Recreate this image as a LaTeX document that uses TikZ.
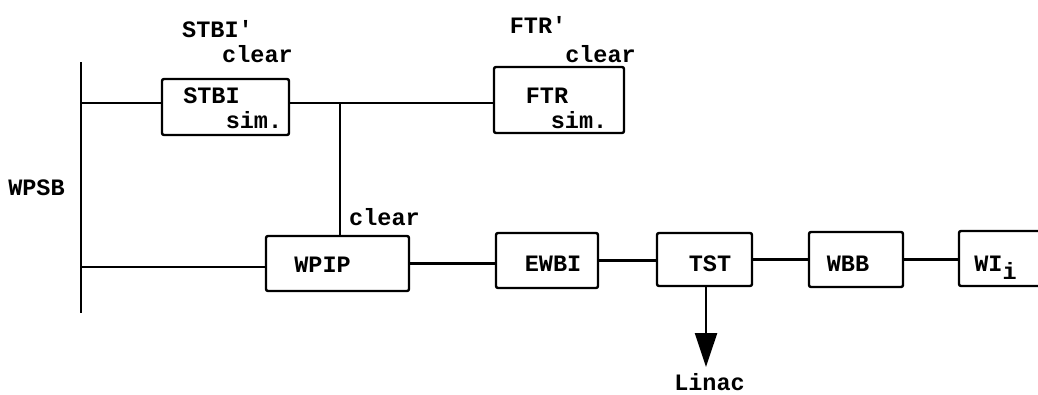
\documentclass[tikz,border=0pt]{standalone}
\usepackage{fontspec}
\setmonofont{Liberation Mono}
\usetikzlibrary{arrows.meta}
\tikzset{
  blk/.style={draw, rectangle, rounded corners=2pt, inner sep=0pt, line width=2.4pt, minimum width=#1},
  blk/.default=100pt,
  lbl/.style={anchor=base, inner sep=0pt, font=\fontsize{23.5}{28}\selectfont\ttfamily\bfseries},
  wire/.style={line width=2.4pt},
}
\begin{document}
\begin{tikzpicture}[x=1pt,y=-1pt]
\useasboundingbox (0,0) rectangle (1038,394);
\clip (0,0) rectangle (1038,394);
% boxes
\node[blk=127pt, minimum height=56pt] (stbi) at (225.5,107) {};
\node[blk=130pt, minimum height=66pt] (ftr) at (559,100) {};
\node[blk=143pt, minimum height=55pt] (wpip) at (337.5,263.5) {};
\node[blk=102pt, minimum height=55pt] (ewbi) at (547,260.5) {};
\node[blk=95pt, minimum height=53pt] (tst) at (704.5,259.5) {};
\node[blk=94pt, minimum height=55pt] (wbb) at (856,259.5) {};
\node[blk=91pt, minimum height=55pt] (wi) at (1004.5,258.5) {};
% bus bar
\coordinate (bt) at (81,62);
\coordinate (bb) at (81,313);
\coordinate (b1) at (81,103);
\coordinate (b2) at (81,267);
\coordinate (j) at (340,103);
\coordinate (tip) at (706,367);
\draw[wire] (bt) -- (bb);
\draw[wire] (b1) -- (b1 -| stbi.west);
\draw[wire] (b1 -| stbi.east) -- (b1 -| ftr.west);
\draw[wire] (j) -- (j |- wpip.north);
\draw[wire] (b2) -- (b2 -| wpip.west);
\draw[wire] (wpip.east) -- (wpip.east -| ewbi.west);
\draw[wire] (ewbi.east) -- (ewbi.east -| tst.west);
\draw[wire] (tst.east) -- (tst.east -| wbb.west);
\draw[wire] (wbb.east) -- (wbb.east -| wi.west);
\draw[wire, -{Triangle[length=34pt,width=22pt]}] (tip |- tst.south) -- (tip);
% labels
\node[lbl] (stbip) at (217.5,37) {STBI\textquotesingle};
\node[lbl] (clr1) at (257.5,62) {clear};
\node[lbl] (stbit) at (211.5,103) {STBI};
\node[lbl] (sim1) at (254,128) {sim.};
\node[lbl] (ftrp) at (538,33) {FTR\textquotesingle};
\node[lbl] (clr2) at (600.5,62) {clear};
\node[lbl] (ftrt) at (547,103) {FTR};
\node[lbl] (sim2) at (579,128) {sim.};
\node[lbl] (wpsb) at (36.5,195) {WPSB};
\node[lbl] (clr3) at (384.5,225) {clear};
\node[lbl] (wpipt) at (322.5,272) {WPIP};
\node[lbl] (ewbit) at (553,271) {EWBI};
\node[lbl] (tstt) at (710,271) {TST};
\node[lbl] (wbbt) at (848,271) {WBB};
\node[lbl] (wit) at (995.5,271) {WI\raisebox{-8pt}{i}};
\node[lbl] (linac) at (709.5,390) {Linac};
\end{tikzpicture}
\end{document}
